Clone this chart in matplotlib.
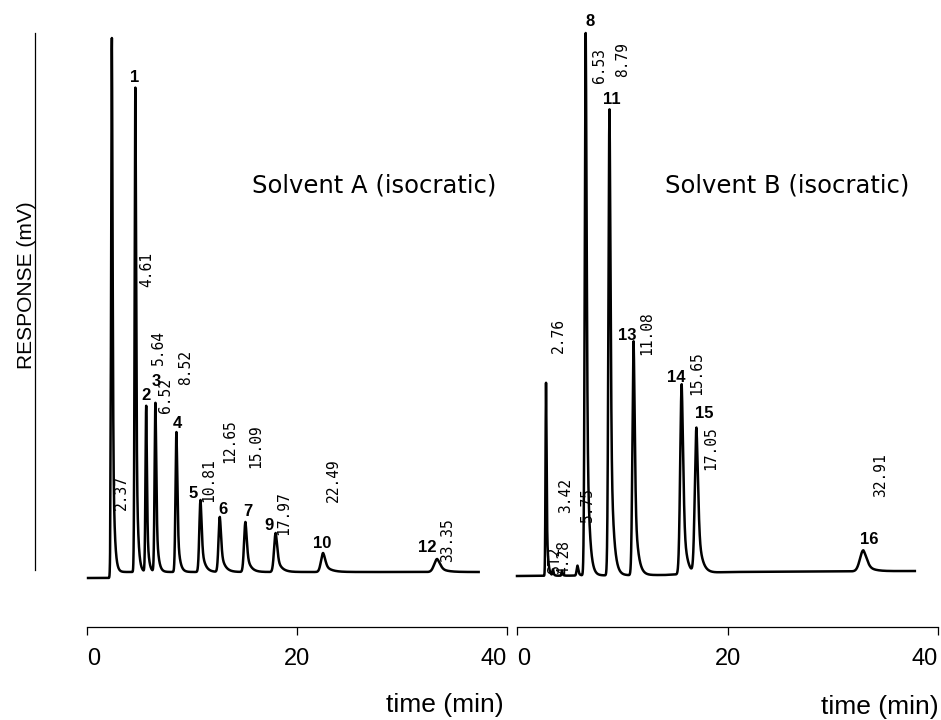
import numpy as np
import matplotlib.pyplot as plt

plt.rcParams['font.family'] = ['Liberation Sans', 'DejaVu Sans']

# Solvent A (isocratic): retention times, peak heights, widths, label positions
rt_a = [2.37, 4.61, 5.64, 6.52, 8.52, 10.81, 12.65, 15.09, 17.97, 22.49, 33.35]
h_a = [53.4, 48.5, 16.6, 16.9, 14.0, 7.2, 5.5, 5.0, 3.9, 1.9, 1.3]
sig_a = [0.07, 0.07, 0.07, 0.08, 0.09, 0.11, 0.12, 0.13, 0.15, 0.20, 0.28]
tau_a = [0.15, 0.15, 0.15, 0.18, 0.20, 0.30, 0.35, 0.35, 0.40, 0.55, 0.60]
rtlab_x_a = [3.24, 5.71, 6.76, 7.43, 9.43, 11.62, 13.62, 16.1, 18.76, 23.43, 34.38]
rtlab_y_a = [6.2, 28.5, 20.7, 15.9, 18.7, 7.0, 10.9, 10.4, 3.7, 7.0, 1.0]
num_a = ['1', '2', '3', '4', '5', '6', '7', '9', '10', '12']
num_x_a = [4.57, 5.62, 6.57, 8.57, 10.1, 12.95, 15.3, 17.3, 22.4, 32.4]
num_y_a = [49.4, 17.6, 19.1, 14.9, 7.8, 6.3, 6.0, 4.6, 2.9, 2.4]

# Solvent B (isocratic)
rt_b = [2.76, 3.42, 4.28, 5.75, 6.53, 8.79, 11.08, 15.65, 17.05, 32.91]
h_b = [19.3, 0.6, 0.5, 1.0, 54.3, 46.6, 23.4, 19.0, 14.5, 2.1]
sig_b = [0.05, 0.05, 0.05, 0.08, 0.09, 0.10, 0.11, 0.14, 0.15, 0.32]
tau_b = [0.12, 0.10, 0.10, 0.15, 0.22, 0.25, 0.28, 0.30, 0.35, 0.60]
rtlab_x_b = [3.9, 4.66, 4.47, 6.65, 7.88, 10.07, 12.35, 17.1, 18.43, 34.5]
rtlab_y_b = [21.9, 5.9, -0.3, 5.0, 48.9, 49.5, 21.7, 17.7, 10.2, 7.5]
num_b = ['8', '11', '13', '14', '15', '16']
num_x_b = [6.93, 9.03, 10.45, 15.1, 17.77, 33.45]
num_y_b = [55.0, 47.2, 23.7, 19.5, 15.9, 3.2]
base_t_b = [0, 14, 20, 38]
base_y_b = [-0.4, -0.3, 0.0, 0.1]

time_ticks = [0, 20, 40]


def peak(t, t0, h, s, tau):
    g = np.exp(-0.5 * ((t - t0) / s) ** 2)
    e = np.exp(-np.clip(t - t0, 0, None) / tau)
    return h * np.where(t < t0, g, 0.5 * g + 0.5 * e)


W, H = 941, 720
fig = plt.figure(figsize=(W / 100, H / 100), dpi=100)


def make_axes(x0, x1):
    ax = fig.add_axes([x0 / W, 1 - 580 / H, (x1 - x0) / W, (580 - 33) / H])
    ax.set_xlim(0, 40)
    ax.set_ylim(-0.8, 53.9)
    for s in ['top', 'right', 'left']:
        ax.spines[s].set_visible(False)
    ax.spines['bottom'].set_position(('outward', 47 * 0.72))
    ax.spines['bottom'].set_linewidth(0.9)
    ax.set_xticks(time_ticks)
    ax.set_yticks([])
    ax.tick_params(axis='x', length=6, width=0.9, pad=9, labelsize=17)
    labels = ax.get_xticklabels()
    labels[0].set_ha('left')
    labels[-1].set_ha('right')
    ax.patch.set_visible(False)
    return ax


def rt_text(ax, x, y, s):
    ax.text(x, y, s, rotation=90, ha='center', va='bottom',
            family='DejaVu Sans Mono', fontsize=10.5)


# left panel
ax1 = make_axes(87, 507)
t = np.linspace(0.1, 37.3, 8000)
y = np.where(t < 2.2, -0.6, 0.0)
for i in range(len(rt_a)):
    y = y + peak(t, rt_a[i], h_a[i], sig_a[i], tau_a[i])
ax1.plot(t, y, color='black', lw=1.8, clip_on=False)
for i in range(len(rt_a)):
    rt_text(ax1, rtlab_x_a[i], rtlab_y_a[i], f'{rt_a[i]:.2f}')
for i in range(len(num_a)):
    ax1.text(num_x_a[i], num_y_a[i], num_a[i], ha='center', va='center',
             fontsize=12, fontweight='bold')
ax1.text(15.7, 38.7, 'Solvent A (isocratic)', ha='left', va='center',
         family='DejaVu Sans', fontsize=17.5)

ax1.spines['left'].set_visible(True)
ax1.spines['left'].set_position(('outward', 52 * 0.72))
ax1.spines['left'].set_bounds(0.2, 53.9)
ax1.spines['left'].set_linewidth(0.9)

# right panel
ax2 = make_axes(517, 938)
t2 = np.linspace(0.0, 37.8, 8000)
y2 = np.interp(t2, base_t_b, base_y_b)
for i in range(len(rt_b)):
    y2 = y2 + peak(t2, rt_b[i], h_b[i], sig_b[i], tau_b[i])
ax2.plot(t2, y2, color='black', lw=1.8, clip_on=False)
for i in range(len(rt_b)):
    rt_text(ax2, rtlab_x_b[i], rtlab_y_b[i], f'{rt_b[i]:.2f}')
rt_text(ax2, 3.6, -0.1, 'ST2')
for i in range(len(num_b)):
    ax2.text(num_x_b[i], num_y_b[i], num_b[i], ha='center', va='center',
             fontsize=12, fontweight='bold')
ax2.text(14.06, 38.7, 'Solvent B (isocratic)', ha='left', va='center',
         family='DejaVu Sans', fontsize=17.5)

fig.text(27 / W, 1 - 285 / H, 'RESPONSE (mV)', rotation=90, ha='center', va='center', fontsize=15)
fig.text(445 / W, 1 - 705 / H, 'time (min)', ha='center', va='center', fontsize=19)
fig.text(880 / W, 1 - 707 / H, 'time (min)', ha='center', va='center', fontsize=19)

fig.savefig('out.png', dpi=100, facecolor='white')
